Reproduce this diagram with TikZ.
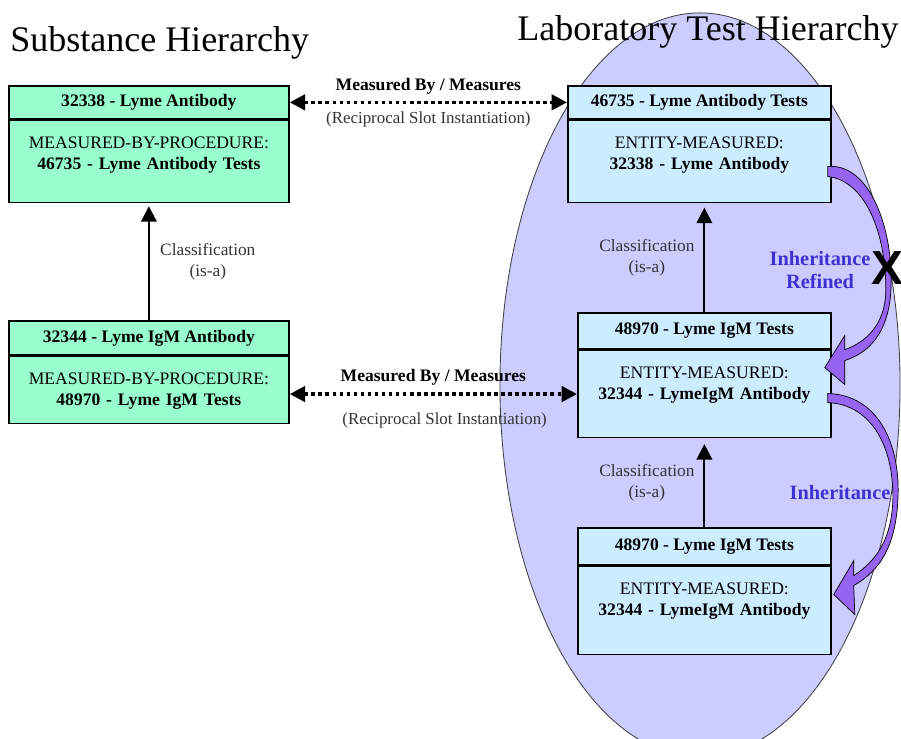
\documentclass[tikz,border=0pt]{standalone}
\usepackage{fontspec}
\setmainfont{Liberation Serif}
\newfontfamily\crossfont{Liberation Sans}
\usetikzlibrary{positioning,arrows.meta}

\definecolor{subgreen}{RGB}{153,255,204}
\definecolor{labblue}{RGB}{204,236,255}
\definecolor{lablilac}{RGB}{204,204,255}
\definecolor{inhpurple}{RGB}{150,100,240}
\definecolor{inhtext}{RGB}{60,50,210}

\tikzset{
  title/.style={font=\fontsize{25.6}{28}\selectfont, inner sep=0pt},
  boxhead/.style={draw, line width=1.2pt, anchor=north west, inner sep=0pt,
    font=\fontsize{12.5}{15}\selectfont\bfseries},
  boxbody/.style={draw, line width=1.2pt, inner sep=0pt, align=center,
    text height=0.7cm, font=\fontsize{12.5}{15}\selectfont},
  isa/.style={line width=1.5pt, -{Triangle[length=11pt,width=11pt]}},
  slot/.style={line width=2.4pt, dash pattern=on 2.6pt off 2.4pt,
    {Triangle[length=11pt,width=11pt]}-{Triangle[length=11pt,width=11pt]}},
  slotlabel/.style={font=\fontsize{12.5}{15}\selectfont\bfseries},
  recip/.style={font=\fontsize{12}{14}\selectfont, text=black!80},
  islabel/.style={font=\fontsize{12.3}{15}\selectfont, align=center, text=black!80},
  inh/.style={fill=inhpurple, draw=black, line width=0.5pt},
  inhlabel/.style={text=inhtext, font=\fontsize{14.5}{17}\selectfont\bfseries, align=center},
}

\begin{document}
\begin{tikzpicture}[x=0.025cm,y=-0.025cm]

  \useasboundingbox (0,0) rectangle (901,738);
  \clip (0,0) rectangle (901,738);

  % laboratory side background
  \draw[fill=lablilac, draw=black!75, line width=0.6pt]
    (700,385) ellipse [x radius=5cm, y radius=9.3cm];

  % titles
  \node[title, anchor=west] (subTitle) at (10,43) {Substance Hierarchy};
  \node[title] (labTitle) at (708,32) {Laboratory Test Hierarchy};

  % substance frames
  \node[boxhead, fill=subgreen, minimum width=7cm, minimum height=0.825cm]
    (ltHdr) at (8,85) {32338 - Lyme Antibody};
  \node[boxbody, fill=subgreen, below=0pt of ltHdr, minimum width=7cm,
    text width=7cm, text depth=1.35cm]
    (ltBody) {MEASURED-BY-PROCEDURE:\\ \textbf{46735 - Lyme Antibody Tests}};

  \node[boxhead, fill=subgreen, minimum width=7cm, minimum height=0.85cm]
    (lmHdr) at (8,320) {32344 - Lyme IgM Antibody};
  \node[boxbody, fill=subgreen, below=0pt of lmHdr, minimum width=7cm,
    text width=7cm, text depth=0.975cm]
    (lmBody) {MEASURED-BY-PROCEDURE:\\ \textbf{48970 - Lyme IgM Tests}};

  % laboratory test frames
  \node[boxhead, fill=labblue, minimum width=6.575cm, minimum height=0.825cm]
    (rtHdr) at (567,85) {46735 - Lyme Antibody Tests};
  \node[boxbody, fill=labblue, below=0pt of rtHdr, minimum width=6.575cm,
    text width=6.575cm, text depth=1.35cm]
    (rtBody) {ENTITY-MEASURED:\\ \textbf{32338 - Lyme Antibody}};

  \node[boxhead, fill=labblue, minimum width=6.325cm, minimum height=0.9cm]
    (rmHdr) at (577,312) {48970 - Lyme IgM Tests};
  \node[boxbody, fill=labblue, below=0pt of rmHdr, minimum width=6.325cm,
    text width=6.325cm, text depth=1.475cm]
    (rmBody) {ENTITY-MEASURED:\\ \textbf{32344 - LymeIgM Antibody}};

  \node[boxhead, fill=labblue, minimum width=6.325cm, minimum height=0.925cm]
    (rbHdr) at (577,527) {48970 - Lyme IgM Tests};
  \node[boxbody, fill=labblue, below=0pt of rbHdr, minimum width=6.325cm,
    text width=6.325cm, text depth=1.5cm]
    (rbBody) {ENTITY-MEASURED:\\ \textbf{32344 - LymeIgM Antibody}};

  % reciprocal slots
  \draw[slot] (ltHdr.east) -- (rtHdr.west)
    node[midway, above=1pt, slotlabel] (slotTop) {Measured By / Measures}
    node[midway, below=2pt, recip] (recipTop) {(Reciprocal Slot Instantiation)};
  \draw[slot] (lmBody.east |- rmBody.west) -- (rmBody.west)
    node[midway, above=2pt, slotlabel] (slotLow) {Measured By / Measures}
    node[midway, below=9pt, xshift=8pt, recip] (recipLow) {(Reciprocal Slot Instantiation)};

  % is-a links
  \draw[isa, shorten >=2pt] (lmHdr.north) -- (ltBody.south)
    node[midway, right=4pt, islabel] (isaLeft) {Classification\\(is-a)};
  \draw[isa, shorten >=3pt] (rmHdr.north) -- (rmHdr.north |- rtBody.south)
    node[midway, left=3pt, islabel] (isaTop) {Classification\\(is-a)};
  \draw[isa, shorten >=4pt] (rbHdr.north) -- (rmBody.south)
    node[midway, left=3pt, islabel] (isaLow) {Classification\\(is-a)};

  % inheritance swooshes
  \begin{scope}[shift={(rtBody.east)}]
    \filldraw[inh] (-4,5) .. controls (38,1) and (63,69) .. (59,131)
      .. controls (56,171) and (38,191) .. (13,199)
      -- (13,223) -- (-7,206) -- (13,174) -- (13,188)
      .. controls (34,181) and (53,163) .. (54,131)
      .. controls (55,73) and (34,19) .. (-4,15) -- cycle;
  \end{scope}
  \begin{scope}[shift={(rmBody.east)}]
    \filldraw[inh] (-4,-0.5) .. controls (45,0.5) and (70,48.5) .. (66,108.5)
      .. controls (63,153.5) and (48,176.5) .. (22,191.5)
      -- (23,220.5) -- (2,200.5) -- (22,166.5) -- (22,181.5)
      .. controls (42,168.5) and (59,148.5) .. (61,108.5)
      .. controls (63,53.5) and (40,10.5) .. (-4,8.5) -- cycle;
  \end{scope}

  \node[inhlabel] (inhRefined) at (820,270) {Inheritance\\Refined};
  \node[font=\crossfont\bfseries\fontsize{34}{34}\selectfont, inner sep=0pt]
    (cross) at (887,268) {X};
  \node[inhlabel] (inhPlain) at (840,493) {Inheritance};

\end{tikzpicture}
\end{document}
